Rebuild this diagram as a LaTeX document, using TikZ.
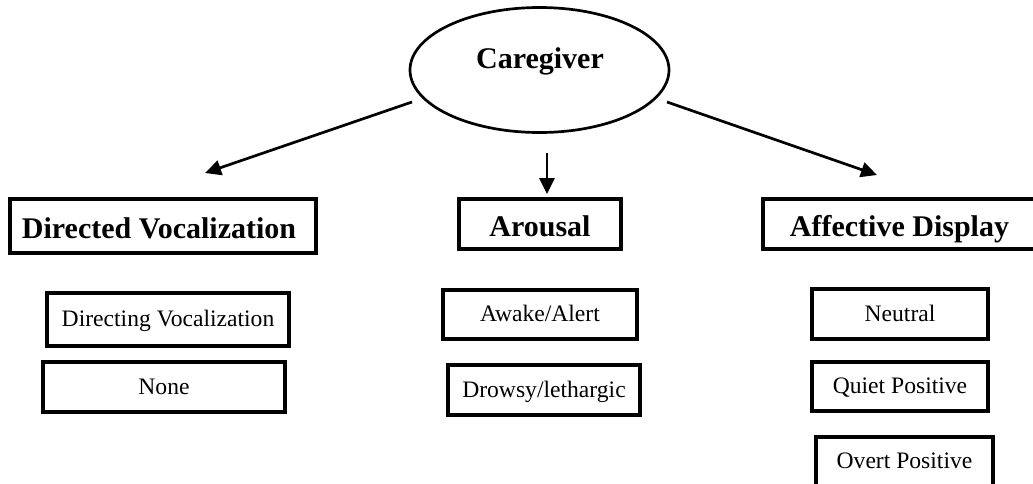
\documentclass[tikz,border=0pt]{standalone}
\usepackage{fontspec}
\setmainfont{Liberation Serif}
\usetikzlibrary{arrows.meta,shapes.geometric}

\tikzset{
  headfont/.style={font=\fontsize{30}{34}\selectfont\bfseries},
  itemfont/.style={font=\fontsize{23.6}{28}\selectfont},
  mainbox/.style={draw, line width=3.2pt, rectangle, inner sep=0pt, headfont,
                  text height=24pt, text depth=0pt},
  subbox/.style={draw, line width=3.2pt, rectangle, inner sep=0pt, itemfont,
                 text height=14pt, text depth=0pt},
  link/.style={line width=2.7pt, -{Triangle[length=16pt,width=15pt]}}
}

\begin{document}
\begin{tikzpicture}[x=1pt,y=-1pt]
  \useasboundingbox (0,0) rectangle (1033,483);

  % top ellipse
  \node[draw, ellipse, line width=2.7pt, minimum width=259, minimum height=125, inner sep=0pt]
    (caregiver) at (539.5,70) {};
  \node[headfont, inner sep=0pt, anchor=base] (caregivertext) at (540,68) {Caregiver};

  % category headings
  \node[mainbox, minimum width=306, minimum height=54] (dirvoc) at (163,226) {\hspace*{-8pt}Directed Vocalization};
  \node[mainbox, minimum width=162, minimum height=50] (arousal) at (540,224) {Arousal};
  \node[mainbox, minimum width=273, minimum height=50] (affect) at (899.5,224) {Affective Display};

  % categories under each heading
  \node[subbox, minimum width=242, minimum height=53] (directing) at (168,319.5) {Directing Vocalization};
  \node[subbox, minimum width=242, minimum height=50] (none) at (164,387) {None};

  \node[subbox, minimum width=194, minimum height=49] (awake) at (540,314.5) {Awake/Alert};
  \node[subbox, minimum width=192, minimum height=50] (drowsy) at (544,390) {Drowsy/lethargic};

  \node[subbox, minimum width=176, minimum height=50] (neutral) at (900,314) {Neutral};
  \node[subbox, minimum width=176, minimum height=49] (quiet) at (900,386.5) {Quiet Positive};
  \node[subbox, minimum width=177, minimum height=49] (overt) at (904.5,461.5) {Overt Positive};

  % arrow end points (the arrows stand free of the shapes)
  \coordinate (leftstart) at (412,102);
  \coordinate (leftend) at (205,173);
  \coordinate (midstart) at (547,153);
  \coordinate (midend) at (547,194);
  \coordinate (rightstart) at (667,102);
  \coordinate (rightend) at (877,175);

  \draw[link] (leftstart) -- (leftend);
  \draw[link] (midstart) -- (midend);
  \draw[link] (rightstart) -- (rightend);
\end{tikzpicture}
\end{document}
